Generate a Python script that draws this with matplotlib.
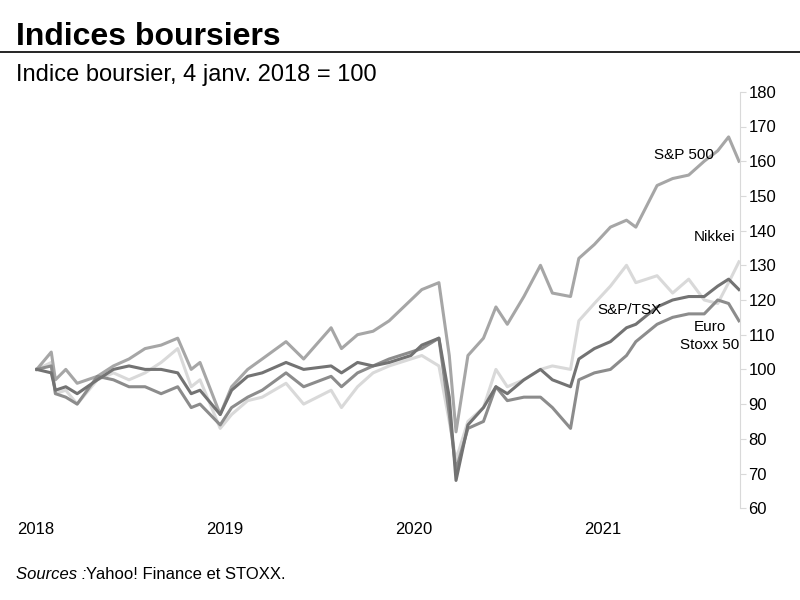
import matplotlib
matplotlib.use("Agg")
import matplotlib.pyplot as plt
import pandas as pd

plt.rcParams["font.family"] = "Liberation Sans"

dates = ["2018-01-04", "2018-02-01", "2018-02-09", "2018-03-01", "2018-03-23", "2018-05-01", "2018-06-01",
         "2018-07-01", "2018-08-01", "2018-09-01", "2018-10-03", "2018-10-29", "2018-11-15", "2018-12-24",
         "2019-01-15", "2019-02-15", "2019-03-15", "2019-04-30", "2019-06-03", "2019-07-26", "2019-08-15",
         "2019-09-15", "2019-10-15", "2019-11-15", "2019-12-27", "2020-01-17", "2020-02-19", "2020-03-10",
         "2020-03-23", "2020-04-15", "2020-05-15", "2020-06-08", "2020-06-30", "2020-08-01", "2020-09-02",
         "2020-09-25", "2020-10-30", "2020-11-15", "2020-12-15", "2021-01-15", "2021-02-15", "2021-03-05",
         "2021-04-15", "2021-05-15", "2021-06-15", "2021-07-15", "2021-08-10", "2021-08-31", "2021-09-20"]

sp500 = [100, 105, 97, 100, 96, 98, 101, 103, 106, 107, 109, 100, 102, 87,
         95, 100, 103, 108, 103, 112, 106, 110, 111, 114, 120, 123, 125, 104,
         82, 104, 109, 118, 113, 121, 130, 122, 121, 132, 136, 141, 143, 141,
         153, 155, 156, 160, 163, 167, 160]
nikkei = [100, 102, 93, 94, 90, 97, 99, 97, 99, 102, 106, 95, 97, 83,
          87, 91, 92, 96, 90, 94, 89, 95, 99, 101, 103, 104, 101, 85,
          74, 85, 89, 100, 95, 97, 100, 101, 100, 114, 119, 124, 130, 125,
          127, 122, 126, 120, 119, 125, 131]
tsx = [100, 99, 94, 95, 93, 97, 100, 101, 100, 100, 99, 93, 94, 87,
       94, 98, 99, 102, 100, 101, 99, 102, 101, 102, 104, 107, 109, 92,
       68, 84, 89, 95, 93, 97, 100, 97, 95, 103, 106, 108, 112, 113,
       118, 120, 121, 121, 124, 126, 123]
eurostoxx = [100, 101, 93, 92, 90, 98, 97, 95, 95, 93, 95, 89, 90, 84,
             89, 92, 94, 99, 95, 98, 95, 99, 101, 103, 105, 106, 109, 87,
             71, 83, 85, 95, 91, 92, 92, 89, 83, 97, 99, 100, 104, 108,
             113, 115, 116, 116, 120, 119, 114]

x = pd.to_datetime(dates)

fig = plt.figure(figsize=(8, 6), dpi=100)
ax = fig.add_axes([0.044, 0.153, 0.881, 0.694])

ax.plot(x, nikkei, color="#d9d9d9", lw=2.2)
ax.plot(x, sp500, color="#a6a6a6", lw=2.2)
ax.plot(x, eurostoxx, color="#8c8c8c", lw=2.2)
ax.plot(x, tsx, color="#737373", lw=2.2)

ax.set_xlim(pd.Timestamp("2018-01-01"), pd.Timestamp("2021-09-22"))
ax.set_ylim(60, 180)
ax.set_yticks(range(60, 181, 10))
ax.yaxis.tick_right()
ax.set_xticks(pd.to_datetime(["2018-01-01", "2019-01-01", "2020-01-01", "2021-01-01"]))
ax.set_xticklabels(["2018", "2019", "2020", "2021"])
for s in ["top", "left", "bottom"]:
    ax.spines[s].set_visible(False)
ax.spines["right"].set_color("#d9d9d9")
ax.tick_params(axis="y", length=4, color="#d9d9d9", labelsize=12, pad=2)
ax.tick_params(axis="x", length=0, labelsize=12, pad=10)

ax.text(pd.Timestamp("2021-04-10"), 160.5, "S&P 500", fontsize=11)
ax.text(pd.Timestamp("2021-06-25"), 137, "Nikkei", fontsize=11)
ax.text(pd.Timestamp("2020-12-20"), 116, "S&P/TSX", fontsize=11)
ax.text(pd.Timestamp("2021-07-25"), 106, "Euro\nStoxx 50", fontsize=11, ha="center", linespacing=1.3)

fig.text(0.02, 0.925, "Indices boursiers", fontsize=23, fontweight="bold")
fig.add_artist(plt.Line2D([0, 1], [0.913, 0.913], color="black", lw=1.2))
fig.text(0.02, 0.865, "Indice boursier, 4 janv. 2018 = 100", fontsize=17)
fig.text(0.02, 0.035, "Sources :", fontsize=12, style="italic")
fig.text(0.107, 0.035, "Yahoo! Finance et STOXX.", fontsize=12)

fig.savefig("out.png")
